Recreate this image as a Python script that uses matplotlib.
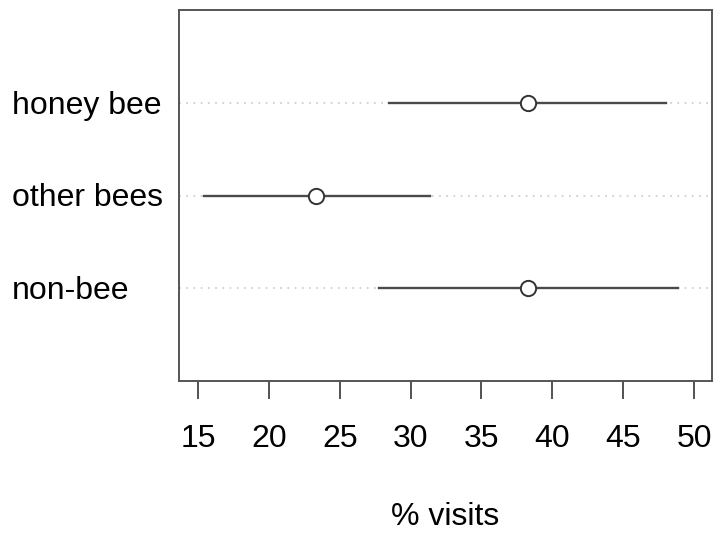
import matplotlib.pyplot as plt
import matplotlib.transforms as mtransforms

groups = ["honey bee", "other bees", "non-bee"]
means = [38.3, 23.3, 38.3]
lower = [28.5, 15.4, 27.8]
upper = [48.0, 31.4, 48.9]
xticks = [15, 20, 25, 30, 35, 40, 45, 50]

plt.rcParams['font.family'] = ['Liberation Sans', 'DejaVu Sans']

fig = plt.figure(figsize=(7.14, 5.35), dpi=100)
ax = fig.add_axes([179/714, 1 - 381/535, (712-179)/714, (381-10)/535])

ypos = [3, 2, 1]
for y, m, lo, hi in zip(ypos, means, lower, upper):
    # dotted guide line across the panel, like dotchart
    ax.axhline(y, color='#d0d0d0', linestyle=(0, (1, 3)), linewidth=1.3, zorder=1)
    ax.plot([lo, hi], [y, y], color='#4a4a4a', linewidth=1.7, zorder=2)
    ax.plot(m, y, 'o', markersize=11, markerfacecolor='white',
            markeredgecolor='#333333', markeredgewidth=1.4, zorder=3)

ax.set_xlim(13.66, 51.27)
ax.set_ylim(0, 4)
ax.set_yticks([])
ax.set_xticks(xticks)
ax.tick_params(axis='x', length=13, width=1.3, color='#444444', pad=18,
               labelsize=23)
for sp in ax.spines.values():
    sp.set_color('#555555')
    sp.set_linewidth(1.4)

# row labels, left-aligned at the figure edge, nudged down a few pixels
trans = mtransforms.blended_transform_factory(fig.transFigure, ax.transData)
trans = trans + mtransforms.ScaledTranslation(0, -3/100, fig.dpi_scale_trans)
for y, g in zip(ypos, groups):
    ax.text(12/714, y, g, transform=trans, ha='left', va='center', fontsize=23)

fig.text((179+712)/2/714, 1 - 517/535, "% visits", ha='center', va='center',
         fontsize=23)

fig.savefig("out.png", dpi=100)
